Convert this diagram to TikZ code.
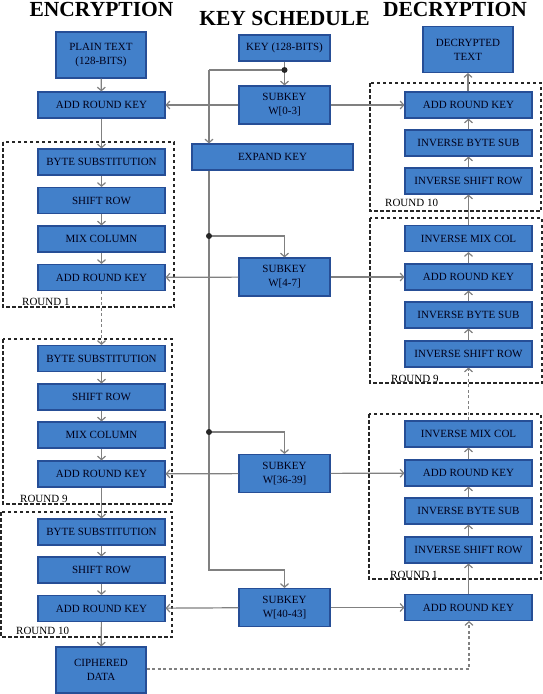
\documentclass[tikz,border=0pt]{standalone}
\usepackage{fontspec}
\setmainfont{Liberation Serif}
\usetikzlibrary{arrows.meta}
\definecolor{boxfill}{RGB}{66,128,202}
\definecolor{boxline}{RGB}{38,78,150}
\definecolor{conn}{RGB}{128,128,128}
\begin{document}
\begin{tikzpicture}[x=1pt,y=-1pt,
  blk/.style={draw=boxline,line width=1.1pt,fill=boxfill,inner sep=0pt,
    align=center,font=\fontsize{11}{14}\selectfont,text=black!90!blue},
  wide/.style={blk,minimum width=127pt,minimum height=26pt},
  keyb/.style={blk,minimum width=91pt,minimum height=38pt},
  io/.style={blk,minimum width=90pt,minimum height=46pt},
  line/.style={draw=conn,line width=1.2pt},
  arr/.style={line,-{Straight Barb[length=3.5pt,width=8pt]}},
  darr/.style={arr,dash pattern=on 3pt off 2.5pt},
  dline/.style={line,dash pattern=on 3pt off 2.5pt},
  roundbox/.style={draw=black!85,line width=1.2pt,dash pattern=on 3.5pt off 2.5pt},
  rlabel/.style={anchor=base west,inner sep=0pt,font=\fontsize{11}{13}\selectfont},
  title/.style={anchor=base,inner sep=0pt,font=\fontsize{21.5}{24}\selectfont\bfseries},
  dot/.style={circle,fill=black!85,inner sep=0pt,minimum size=6pt}]
\useasboundingbox (0,0) rectangle (543,694);

% titles
\node[title] (tenc) at (101.5,16.5) {ENCRYPTION};
\node[title] (tkey) at (284.5,25.5) {KEY SCHEDULE};
\node[title] (tdec) at (455,16.5) {DECRYPTION};

% round frames
\draw[roundbox] (3,142) rectangle (174,307);
\draw[roundbox] (3,339) rectangle (172,504);
\draw[roundbox] (1,512) rectangle (172,637);
\draw[roundbox] (370,83) rectangle (541,211);
\draw[roundbox] (370,218) rectangle (542,383);
\draw[roundbox] (369,414) rectangle (541,579);
\node[rlabel] (lr1) at (22,305) {ROUND 1};
\node[rlabel] (lr9) at (20,502) {ROUND 9};
\node[rlabel] (lr10) at (16,634) {ROUND 10};
\node[rlabel] (ldr10) at (385,206) {ROUND 10};
\node[rlabel] (ldr9) at (391,382) {ROUND 9};
\node[rlabel] (ldr1) at (390,578) {ROUND 1};

% encryption
\node[io] (pt) at (101,55) {PLAIN TEXT\\(128-BITS)};
\node[wide] (e0) at (101.5,105) {ADD ROUND KEY};
\node[wide] (e1a) at (101.5,162) {BYTE SUBSTITUTION};
\node[wide] (e1b) at (101.5,200.5) {SHIFT ROW};
\node[wide] (e1c) at (101.5,239) {MIX COLUMN};
\node[wide] (e1d) at (101.5,277.5) {ADD ROUND KEY};
\node[wide] (e9a) at (101.5,358.5) {BYTE SUBSTITUTION};
\node[wide] (e9b) at (101.5,397) {SHIFT ROW};
\node[wide] (e9c) at (101.5,435) {MIX COLUMN};
\node[wide] (e9d) at (101.5,474) {ADD ROUND KEY};
\node[wide] (e10a) at (101.5,532) {BYTE SUBSTITUTION};
\node[wide] (e10b) at (101.5,570) {SHIFT ROW};
\node[wide] (e10c) at (101.5,608.5) {ADD ROUND KEY};
\node[io] (cd) at (101,670) {CIPHERED\\DATA};

% key schedule
\node[blk,minimum width=91pt,minimum height=26pt] (key) at (284.5,48) {KEY (128-BITS)};
\node[keyb] (s0) at (284.5,105) {SUBKEY\\W[0-3]};
\node[blk,minimum width=161pt,minimum height=26pt] (ek) at (272.5,157) {EXPAND KEY};
\node[keyb] (s1) at (284.5,277) {SUBKEY\\W[4-7]};
\node[keyb] (s9) at (284.5,473.5) {SUBKEY\\W[36-39]};
\node[keyb] (s10) at (284.5,607.5) {SUBKEY\\W[40-43]};

% decryption
\node[io] (dt) at (468,49.5) {DECRYPTED\\TEXT};
\node[wide] (d10a) at (468.5,105) {ADD ROUND KEY};
\node[wide] (d10b) at (468.5,143) {INVERSE BYTE SUB};
\node[wide] (d10c) at (468.5,181) {INVERSE SHIFT ROW};
\node[wide] (d9a) at (468.5,238.5) {INVERSE MIX COL};
\node[wide] (d9b) at (468.5,277) {ADD ROUND KEY};
\node[wide] (d9c) at (468.5,315) {INVERSE BYTE SUB};
\node[wide] (d9d) at (468.5,354) {INVERSE SHIFT ROW};
\node[wide] (d1a) at (468.5,434) {INVERSE MIX COL};
\node[wide] (d1b) at (468.5,473) {ADD ROUND KEY};
\node[wide] (d1c) at (468.5,511) {INVERSE BYTE SUB};
\node[wide] (d1d) at (468.5,550) {INVERSE SHIFT ROW};
\node[wide] (df) at (468.5,607.5) {ADD ROUND KEY};

% encryption flow
\draw[arr] (pt) -- (e0);
\draw[arr] (e0) -- (e1a);
\draw[arr] (e1a) -- (e1b);
\draw[arr] (e1b) -- (e1c);
\draw[arr] (e1c) -- (e1d);
\draw[darr] (e1d) -- (e9a);
\draw[arr] (e9a) -- (e9b);
\draw[arr] (e9b) -- (e9c);
\draw[arr] (e9c) -- (e9d);
\draw[arr] (e9d) -- (e10a);
\draw[arr] (e10a) -- (e10b);
\draw[arr] (e10b) -- (e10c);
\draw[arr] (e10c) -- (cd);

% decryption flow
\draw[arr] (df.north -| d1d) -- (d1d);
\draw[arr] (d1d) -- (d1c);
\draw[arr] (d1c) -- (d1b);
\draw[arr] (d1b) -- (d1a);
\draw[darr] (d1a) -- (d9d);
\draw[arr] (d9d) -- (d9c);
\draw[arr] (d9c) -- (d9b);
\draw[arr] (d9b) -- (d9a);
\draw[arr] (d9a) -- (d10c);
\draw[arr] (d10c) -- (d10b);
\draw[arr] (d10b) -- (d10a);
\draw[arr] (d10a.north -| dt) -- (dt);
\coordinate (cdturn) at (469,669);
\draw[darr] (cd.east |- cdturn) -- (cdturn) -- (df.south -| cdturn);

% key schedule flow
\coordinate (j0) at (284.5,70);
\coordinate (t0) at (209,70);
\coordinate (t1) at (209,236);
\coordinate (t9) at (209,432);
\coordinate (t10) at (209,570);
\draw[arr] (key) -- (s0);
\draw[line] (j0) -- (t0);
\draw[arr] (t0) -- (t0 |- ek.north);
\draw[arr] (t0 |- ek.south) -- (t10) -| (s10.north);
\draw[arr] (t1) -| (s1.north);
\draw[arr] (t9) -| (s9.north);
\node[dot] (dj0) at (j0) {};
\node[dot] (dt1) at (t1) {};
\node[dot] (dt9) at (t9) {};

% subkeys to rounds
\draw[arr] (s0) -- (e0);
\draw[arr] (s0) -- (d10a);
\draw[arr] (s1) -- (e1d);
\draw[arr] (s1) -- (d9b);
\draw[arr] (s9) -- (e9d);
\draw[arr] (s9) -- (d1b);
\draw[arr] (s10) -- (e10c);
\draw[arr] (s10) -- (df);
\end{tikzpicture}
\end{document}
